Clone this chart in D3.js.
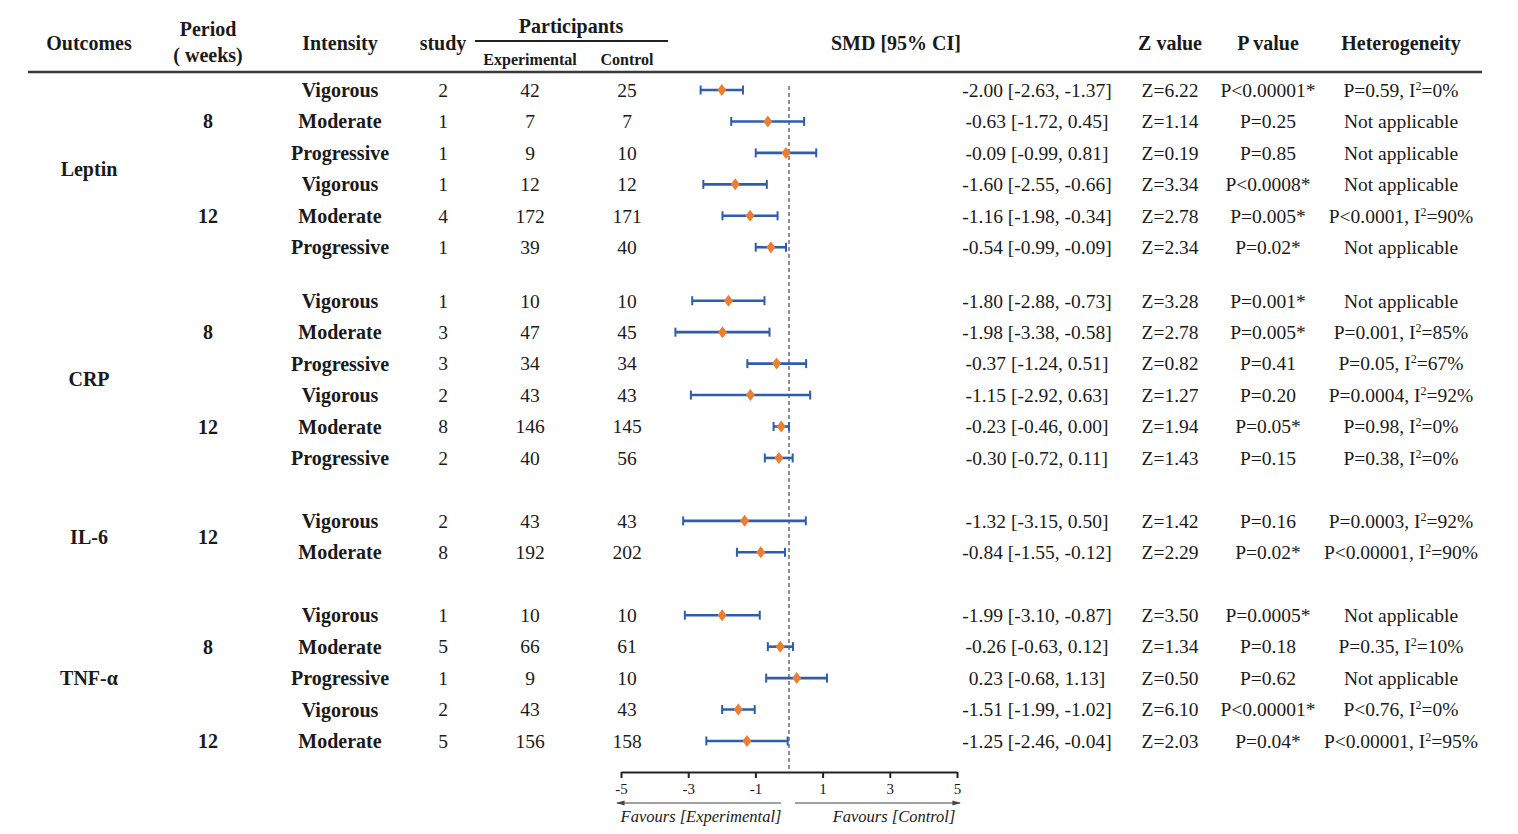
<!DOCTYPE html>
<html>
<head>
<meta charset="utf-8">
<script src="https://cdn.jsdelivr.net/npm/d3@7"></script>
<style>
  body { margin: 0; background: #fff; }
  svg text { font-family: "Liberation Serif", "Times New Roman", serif; fill: #1a1a1a; }
</style>
</head>
<body>
<svg id="chart" width="1518" height="834"></svg>
<script>
var outcomes = ["Leptin", "CRP", "IL-6", "TNF-α"];
var outcomeIdx = [0,0,0,0,0,0, 1,1,1,1,1,1, 2,2, 3,3,3,3,3];
var period = [8,8,8,12,12,12, 8,8,8,12,12,12, 12,12, 8,8,8,12,12];
var intensity = ["Vigorous","Moderate","Progressive","Vigorous","Moderate","Progressive",
  "Vigorous","Moderate","Progressive","Vigorous","Moderate","Progressive",
  "Vigorous","Moderate",
  "Vigorous","Moderate","Progressive","Vigorous","Moderate"];
var studies = [2,1,1,1,4,1, 1,3,3,2,8,2, 2,8, 1,5,1,2,5];
var nExp = [42,7,9,12,172,39, 10,47,34,43,146,40, 43,192, 10,66,9,43,156];
var nCtl = [25,7,10,12,171,40, 10,45,34,43,145,56, 43,202, 10,61,10,43,158];
var smd = [-2.00,-0.63,-0.09,-1.60,-1.16,-0.54, -1.80,-1.98,-0.37,-1.15,-0.23,-0.30, -1.32,-0.84, -1.99,-0.26,0.23,-1.51,-1.25];
var ciLow = [-2.63,-1.72,-0.99,-2.55,-1.98,-0.99, -2.88,-3.38,-1.24,-2.92,-0.46,-0.72, -3.15,-1.55, -3.10,-0.63,-0.68,-1.99,-2.46];
var ciHigh = [-1.37,0.45,0.81,-0.66,-0.34,-0.09, -0.73,-0.58,0.51,0.63,0.00,0.11, 0.50,-0.12, -0.87,0.12,1.13,-1.02,-0.04];
var zValues = [6.22,1.14,0.19,3.34,2.78,2.34, 3.28,2.78,0.82,1.27,1.94,1.43, 1.42,2.29, 3.50,1.34,0.50,6.10,2.03];
var pValues = ["P<0.00001*","P=0.25","P=0.85","P<0.0008*","P=0.005*","P=0.02*",
  "P=0.001*","P=0.005*","P=0.41","P=0.20","P=0.05*","P=0.15",
  "P=0.16","P=0.02*",
  "P=0.0005*","P=0.18","P=0.62","P<0.00001*","P=0.04*"];
var hetP = ["P=0.59",null,null,null,"P<0.0001",null,
  null,"P=0.001","P=0.05","P=0.0004","P=0.98","P=0.38",
  "P=0.0003","P<0.00001",
  null,"P=0.35",null,"P<0.76","P<0.00001"];
var hetI2 = [0,null,null,null,90,null, null,85,67,92,0,0, 92,90, null,10,null,0,95];
var axisTicks = [-5,-3,-1,1,3,5];

var svg = d3.select("#chart");

// extra blank space (in rows) before each outcome block
var gapBefore = [0, 0.7, 1, 1];
var offsets = [], acc = 0;
gapBefore.forEach(function(g) { acc += g; offsets.push(acc); });
var slots = outcomeIdx.map(function(o, i) { return i + offsets[o]; });

var y = d3.scaleLinear().domain([0, d3.max(slots)]).range([90, 741]);
var x = d3.scaleLinear().domain([-5, 5]).range([621, 957]);
var rowY = function(i) { return y(slots[i]); };

var colX = { outcome: 89, period: 208, intensity: 340, study: 443, exp: 530, ctl: 627,
  smd: 1037, z: 1170, p: 1268, het: 1401 };

function txt(xp, yp, s, size, weight) {
  return svg.append("text")
    .attr("x", xp).attr("y", yp).attr("dy", "0.35em")
    .attr("text-anchor", "middle")
    .style("font-size", size + "px")
    .style("font-weight", weight || "normal")
    .text(s);
}

// header
txt(colX.outcome, 43, "Outcomes", 20, "bold");
txt(colX.period, 29, "Period", 20, "bold");
txt(colX.period, 55, "( weeks)", 20, "bold");
txt(colX.intensity, 43, "Intensity", 20, "bold");
txt(colX.study, 43, "study", 20, "bold");
txt(571, 26, "Participants", 20, "bold");
svg.append("line").attr("x1", 475).attr("x2", 668).attr("y1", 41).attr("y2", 41)
  .attr("stroke", "#222").attr("stroke-width", 2);
txt(colX.exp, 59, "Experimental", 16, "bold");
txt(colX.ctl, 59, "Control", 16, "bold");
txt(896, 43, "SMD [95% CI]", 20, "bold");
txt(colX.z, 43, "Z value", 20, "bold");
txt(colX.p, 43, "P value", 20, "bold");
txt(colX.het, 43, "Heterogeneity", 20, "bold");
svg.append("line").attr("x1", 28).attr("x2", 1482).attr("y1", 72).attr("y2", 72)
  .attr("stroke", "#3a3a3a").attr("stroke-width", 2.5);

// outcome labels, centred on their block
outcomes.forEach(function(name, o) {
  var rows = d3.range(outcomeIdx.length).filter(function(i) { return outcomeIdx[i] === o; });
  var yc = (rowY(rows[0]) + rowY(rows[rows.length - 1])) / 2;
  txt(colX.outcome, yc, name, 20, "bold");

  // period labels
  var groups = d3.groups(rows, function(i) { return period[i]; });
  groups.forEach(function(g) {
    var r = g[1], py;
    if (groups.length === 1) py = (rowY(r[0]) + rowY(r[r.length - 1])) / 2;
    else py = rowY(r[Math.floor(r.length / 2)]);
    txt(colX.period, py, String(g[0]), 20, "bold");
  });
});

var fmt = function(v) { return v.toFixed(2); };

d3.range(outcomeIdx.length).forEach(function(i) {
  var yy = rowY(i);
  txt(colX.intensity, yy, intensity[i], 20, "bold");
  txt(colX.study, yy, studies[i], 19.5);
  txt(colX.exp, yy, nExp[i], 19.5);
  txt(colX.ctl, yy, nCtl[i], 19.5);
  txt(colX.smd, yy, fmt(smd[i]) + " [" + fmt(ciLow[i]) + ", " + fmt(ciHigh[i]) + "]", 19.5);
  txt(colX.z, yy, "Z=" + fmt(zValues[i]), 19.5);
  txt(colX.p, yy, pValues[i], 19.5);
  if (hetP[i] === null) {
    txt(colX.het, yy, "Not applicable", 19.5);
  } else {
    var t = txt(colX.het, yy, "", 19.5);
    t.append("tspan").text(hetP[i] + ", I");
    t.append("tspan").attr("dy", -7).style("font-size", "12px").text("2");
    t.append("tspan").attr("dy", 7).text("=" + hetI2[i] + "%");
  }
});

// zero line
svg.append("line")
  .attr("x1", x(0)).attr("x2", x(0))
  .attr("y1", rowY(0) - 4).attr("y2", 772)
  .attr("stroke", "#555").attr("stroke-width", 1.3)
  .attr("stroke-dasharray", "4,3");

// CI bars
var idx = d3.range(outcomeIdx.length);
var ci = svg.append("g").attr("stroke", "#2F5DAE").attr("stroke-width", 2.6);
ci.selectAll(".bar").data(idx).join("line")
  .attr("x1", function(i) { return x(ciLow[i]); })
  .attr("x2", function(i) { return x(ciHigh[i]); })
  .attr("y1", rowY).attr("y2", rowY);
ci.selectAll(".capL").data(idx).join("line")
  .attr("x1", function(i) { return x(ciLow[i]); })
  .attr("x2", function(i) { return x(ciLow[i]); })
  .attr("y1", function(i) { return rowY(i) - 4.5; })
  .attr("y2", function(i) { return rowY(i) + 4.5; })
  .attr("stroke-width", 2);
ci.selectAll(".capR").data(idx).join("line")
  .attr("x1", function(i) { return x(ciHigh[i]); })
  .attr("x2", function(i) { return x(ciHigh[i]); })
  .attr("y1", function(i) { return rowY(i) - 4.5; })
  .attr("y2", function(i) { return rowY(i) + 4.5; })
  .attr("stroke-width", 2);

// point estimates
svg.append("g").selectAll("path").data(idx).join("path")
  .attr("d", "M0,-6L4.5,0L0,6L-4.5,0Z")
  .attr("fill", "#ED7D31")
  .attr("transform", function(i) { return "translate(" + x(smd[i]) + "," + rowY(i) + ")"; });

// axis
var axis = svg.append("g").attr("transform", "translate(0,772)")
  .call(d3.axisBottom(x).tickValues(axisTicks).tickSize(6).tickSizeOuter(0)
    .tickFormat(function(d) { return d; }));
axis.select(".domain").attr("stroke", "#222").attr("stroke-width", 2);
axis.selectAll(".tick line").attr("stroke", "#222").attr("stroke-width", 2).attr("y2", 6);
axis.selectAll(".tick text")
  .style("font-family", '"Liberation Serif", serif')
  .style("font-size", "15px").attr("fill", "#333").attr("y", 11);

// favours arrows
var defs = svg.append("defs");
defs.append("marker").attr("id", "arr").attr("viewBox", "0 0 10 10")
  .attr("refX", 9).attr("refY", 5).attr("markerWidth", 7).attr("markerHeight", 7)
  .attr("orient", "auto-start-reverse")
  .append("path").attr("d", "M0,2L10,5L0,8Z").attr("fill", "#444");
svg.append("line").attr("x1", x(0) - 8).attr("x2", x(-5) - 4).attr("y1", 803).attr("y2", 803)
  .attr("stroke", "#444").attr("stroke-width", 1.2).attr("marker-end", "url(#arr)");
svg.append("line").attr("x1", x(0) + 6).attr("x2", x(5) + 3).attr("y1", 803).attr("y2", 803)
  .attr("stroke", "#444").attr("stroke-width", 1.2).attr("marker-end", "url(#arr)");
txt((x(-5) + x(0)) / 2 - 4, 816, "Favours [Experimental]", 16.5).style("font-style", "italic");
txt((x(0) + x(5)) / 2 + 21, 816, "Favours [Control]", 16.5).style("font-style", "italic");
</script>
</body>
</html>
